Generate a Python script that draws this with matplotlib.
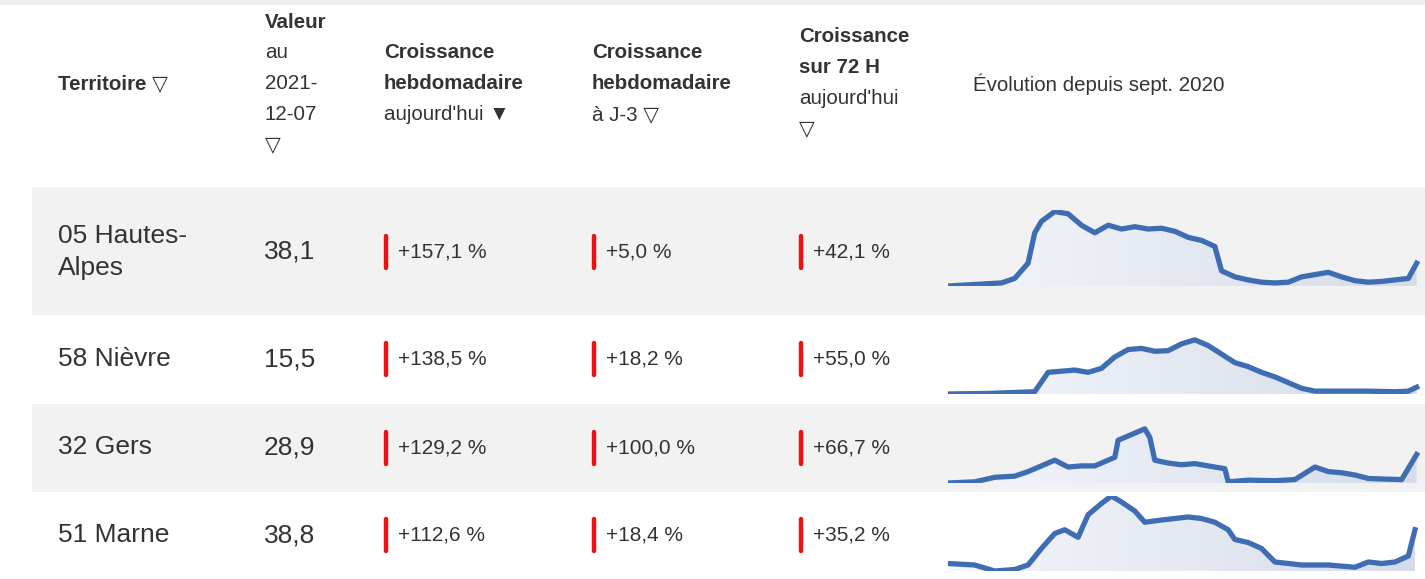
import matplotlib.pyplot as plt
import numpy as np

plt.rcParams['font.family'] = ['Liberation Sans', 'DejaVu Sans']

territoires = ["05 Hautes-\nAlpes", "58 Nièvre", "32 Gers", "51 Marne"]
valeurs = ["38,1", "15,5", "28,9", "38,8"]
croiss_hebdo = ["+157,1 %", "+138,5 %", "+129,2 %", "+112,6 %"]
croiss_j3 = ["+5,0 %", "+18,2 %", "+100,0 %", "+18,4 %"]
croiss_72h = ["+42,1 %", "+55,0 %", "+66,7 %", "+35,2 %"]

# sparkline points: (position along series, value)
spark_x = [
    [25, 65, 105, 145, 185, 225, 265, 285, 305, 345, 385, 425, 465, 505, 545, 585, 625, 665, 705, 745,
     785, 825, 845, 885, 925, 965, 1005, 1045, 1085, 1125, 1165, 1205, 1245, 1285, 1325, 1365, 1405, 1430],
    [25, 145, 285, 325, 365, 405, 445, 485, 525, 565, 605, 645, 685, 725, 765, 805, 845, 885, 925, 965,
     1005, 1045, 1085, 1125, 1205, 1285, 1365, 1405, 1430],
    [25, 105, 165, 225, 265, 305, 345, 385, 425, 465, 505, 525, 535, 575, 615, 630, 645, 685, 725, 765,
     805, 855, 865, 925, 1005, 1065, 1125, 1165, 1205, 1245, 1285, 1325, 1385, 1430],
    [25, 105, 165, 225, 265, 305, 345, 375, 415, 445, 485, 515, 545, 585, 615, 665, 705, 745, 785, 825,
     865, 885, 925, 965, 1005, 1045, 1085, 1165, 1245, 1285, 1325, 1365, 1405, 1425],
]
spark_y = [
    [0, 1, 2, 3, 4, 10, 30, 70, 85, 98, 95, 80, 70, 80, 75, 78, 75, 76, 72, 64,
     60, 52, 20, 12, 8, 5, 4, 5, 12, 15, 18, 12, 7, 5, 6, 8, 10, 30],
    [0, 1, 4, 38, 40, 42, 38, 45, 65, 78, 80, 75, 76, 88, 95, 85, 70, 55, 48, 38,
     30, 20, 10, 5, 5, 5, 4, 5, 12],
    [0, 2, 10, 12, 20, 30, 40, 28, 30, 30, 40, 45, 75, 85, 95, 80, 40, 35, 32, 34,
     30, 25, 2, 5, 4, 6, 28, 20, 18, 14, 8, 7, 6, 50],
    [10, 8, 0, 2, 8, 30, 50, 55, 45, 75, 90, 100, 92, 80, 65, 68, 70, 72, 70, 65,
     55, 42, 38, 30, 12, 10, 8, 8, 5, 12, 10, 12, 20, 55],
]

W, H = 1425, 579
row_bounds = [(187, 315), (315, 404), (404, 492), (492, 579)]
spark_box = [(210, 286), (337, 394), (426, 483), (496, 571)]
row_bg = ["#f2f2f2", "white", "#f2f2f2", "white"]
txt = "#333333"

fig = plt.figure(figsize=(W / 100, H / 100), dpi=100)
ax = fig.add_axes([0, 0, 1, 1])
ax.set_xlim(0, W)
ax.set_ylim(H, 0)
ax.axis('off')

# faint top border
ax.axhspan(0, 5, color="#eeeeee", lw=0)

# header
hs = 14.8
ax.text(58, 84, "Territoire ▽", fontsize=hs, weight='bold', color=txt, va='center')
for i, (t, b) in enumerate([("Valeur", True), ("au", False), ("2021-", False), ("12-07", False), ("▽", False)]):
    ax.text(265, 22 + 30.8 * i, t, fontsize=hs, weight='bold' if b else 'normal', color=txt, va='center')
for x0, lines in [(384, [("Croissance", True), ("hebdomadaire", True), ("aujourd'hui ▼", False)]),
                  (592, [("Croissance", True), ("hebdomadaire", True), ("à J-3 ▽", False)])]:
    for i, (t, b) in enumerate(lines):
        ax.text(x0, 53 + 30.8 * i, t, fontsize=hs, weight='bold' if b else 'normal', color=txt, va='center')
for i, (t, b) in enumerate([("Croissance", True), ("sur 72 H", True), ("aujourd'hui", False), ("▽", False)]):
    ax.text(799, 37 + 30.8 * i, t, fontsize=hs, weight='bold' if b else 'normal', color=txt, va='center')
ax.text(973, 84, "Évolution depuis sept. 2020", fontsize=hs, color=txt, va='center')

for r in range(4):
    y0, y1 = row_bounds[r]
    yc = (y0 + y1) / 2 + (-0.5 if r else 1)
    if row_bg[r] != "white":
        ax.fill_between([32, W], y0, y1, color=row_bg[r], lw=0)
    ax.text(58, yc, territoires[r], fontsize=19, color=txt, va='center', linespacing=1.4)
    ax.text(264, yc, valeurs[r], fontsize=19, color=txt, va='center')
    for x0, s in [(384, croiss_hebdo[r]), (592, croiss_j3[r]), (799, croiss_72h[r])]:
        ax.plot([x0 + 2, x0 + 2], [yc - 16, yc + 16], color="#ee1111", lw=3.2, solid_capstyle='round')
        ax.text(x0 + 14, yc, s, fontsize=15, color=txt, va='center')

    # sparkline
    sy0, sy1 = spark_box[r]
    sax = fig.add_axes([948 / W, 1 - sy1 / H, (1420 - 948) / W, (sy1 - sy0) / H])
    sax.axis('off')
    xs = np.array(spark_x[r], float)
    ys = np.array(spark_y[r], float)
    sax.set_xlim(25, 1440)
    sax.set_ylim(0, 100)
    poly = sax.fill_between(xs, 0, ys, color='none', lw=0)
    grad = np.linspace(0, 1, 256).reshape(1, -1)
    cmap = plt.matplotlib.colors.LinearSegmentedColormap.from_list("g", ["#f4f6fb", "#d5dce9"])
    im = sax.imshow(grad, extent=[25, 1440, 0, 100], aspect='auto', cmap=cmap, zorder=1)
    im.set_clip_path(poly.get_paths()[0], transform=sax.transData)
    sax.plot(xs, ys, color="#3f6db3", lw=3.8, solid_joinstyle='round', zorder=2)

fig.savefig("out.png", dpi=100)
